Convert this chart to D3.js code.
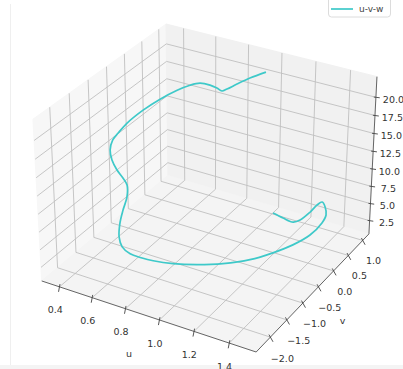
<!DOCTYPE html>
<html>
<head>
<meta charset="utf-8">
<script src="https://cdn.jsdelivr.net/npm/d3@7"></script>
<style>
  body { margin: 0; background: #fff; }
  svg { display: block; }
  text { font-family: "DejaVu Sans", sans-serif; }
</style>
</head>
<body>
<svg id="chart" width="403" height="369"></svg>
<script>
// trajectory (u, v, w)
const uVals = [1.036, 1.127, 1.212, 1.247, 1.268, 1.276, 1.295, 1.354, 1.423, 1.465,
  1.487, 1.468, 1.423, 1.355, 1.254, 1.142, 1.028, 0.922, 0.852, 0.785,
  0.723, 0.674, 0.632, 0.608, 0.587, 0.546, 0.505, 0.450, 0.387, 0.342,
  0.337, 0.347, 0.367, 0.419, 0.483, 0.555, 0.614, 0.669, 0.742, 0.802,
  0.849, 0.869, 0.898, 0.939, 0.994];
const vVals = [0.838, 0.675, 0.539, 0.573, 0.790, 0.976, 1.040, 0.799, 0.429, 0.047,
  -0.470, -0.907, -1.275, -1.600, -1.867, -2.041, -2.157, -2.200, -2.200, -2.191,
  -2.122, -1.980, -1.761, -1.563, -1.354, -1.161, -1.086, -0.999, -0.852, -0.697,
  -0.595, -0.484, -0.317, -0.092, 0.106, 0.267, 0.364, 0.394, 0.331, 0.237,
  0.149, 0.201, 0.354, 0.539, 0.747];
const wVals = [1.6, 2.2, 2.8, 3.2, 3.6, 3.9, 4.2, 4.9, 5.8, 6.6,
  7.3, 7.7, 7.9, 7.9, 7.8, 7.6, 7.4, 7.2, 7.1, 7.1,
  7.3, 7.7, 8.4, 9.2, 10.0, 10.6, 11.0, 11.4, 11.8, 12.3,
  13.3, 13.9, 14.8, 16.1, 17.3, 18.4, 19.1, 19.6, 20.0, 20.3,
  20.5, 20.7, 21.0, 21.4, 21.8];

const uTicks = [0.4, 0.6, 0.8, 1.0, 1.2, 1.4];
const vTicks = [-2.0, -1.5, -1.0, -0.5, 0.0, 0.5, 1.0];
const wTicks = [2.5, 5.0, 7.5, 10.0, 12.5, 15.0, 17.5, 20.0];
const uLim = [0.29, 1.55];
const vLim = [-2.42, 1.22];
const wLim = [0.54, 22.8];
const seriesName = 'u-v-w';

const svg = d3.select('#chart');

// view like matplotlib's default 3d axes
const azim = -60 * Math.PI / 180;
const elev = 30 * Math.PI / 180;
const dist = 15;

const xs = d3.scaleLinear().domain(uLim).range([-1, 1]);
const ys = d3.scaleLinear().domain(vLim).range([-1, 1]);
const zs = d3.scaleLinear().domain(wLim).range([-0.75, 0.75]);
const sx = d3.scaleLinear().domain([-1, 1]).range([86.0, 331.4]);
const sy = d3.scaleLinear().domain([-1, 1]).range([301.9, 56.5]);

function proj(p) {
  const [x, y, z] = p;
  const X = -Math.sin(azim) * x + Math.cos(azim) * y;
  const Y = -Math.sin(elev) * Math.cos(azim) * x - Math.sin(elev) * Math.sin(azim) * y + Math.cos(elev) * z;
  const d = Math.cos(elev) * Math.cos(azim) * x + Math.cos(elev) * Math.sin(azim) * y + Math.sin(elev) * z;
  const f = dist / (dist - d);
  return [sx(X * f), sy(Y * f)];
}
const add = (a, b, k = 1) => [a[0] + b[0] * k, a[1] + b[1] * k, a[2] + b[2] * k];

const Z0 = -0.75, Z1 = 0.75;
const fmt = d3.format('.1f');

// frame of the screenshot
svg.append('rect').attr('x', 0).attr('y', 365).attr('width', 403).attr('height', 4).attr('fill', '#f4f4f4');
svg.append('line').attr('x1', 10.5).attr('x2', 10.5).attr('y1', 4).attr('y2', 365)
  .attr('stroke', '#efefef').attr('stroke-width', 1);

// panes
const panes = [
  { fill: '#f7f7f7', pts: [[-1, -1, Z0], [-1, 1, Z0], [-1, 1, Z1], [-1, -1, Z1]] },
  { fill: '#f1f1f1', pts: [[-1, 1, Z0], [1, 1, Z0], [1, 1, Z1], [-1, 1, Z1]] },
  { fill: '#f4f4f4', pts: [[-1, -1, Z0], [1, -1, Z0], [1, 1, Z0], [-1, 1, Z0]] }
];
svg.append('g').selectAll('polygon')
  .data(panes)
  .enter()
  .append('polygon')
  .attr('points', d => d.pts.map(p => proj(p).join(',')).join(' '))
  .attr('fill', d => d.fill)
  .attr('stroke', d => d.fill)
  .attr('stroke-width', 1);

// grid lines
const grid = [];
uTicks.forEach(t => {
  const x = xs(t);
  grid.push([[x, 1, Z0], [x, 1, Z1]], [[x, -1, Z0], [x, 1, Z0]]);
});
vTicks.forEach(t => {
  const y = ys(t);
  grid.push([[-1, y, Z0], [-1, y, Z1]], [[-1, y, Z0], [1, y, Z0]]);
});
wTicks.forEach(t => {
  const z = zs(t);
  grid.push([[-1, -1, z], [-1, 1, z]], [[-1, 1, z], [1, 1, z]]);
});
svg.append('g').selectAll('line')
  .data(grid)
  .enter()
  .append('line')
  .attr('x1', d => proj(d[0])[0]).attr('y1', d => proj(d[0])[1])
  .attr('x2', d => proj(d[1])[0]).attr('y2', d => proj(d[1])[1])
  .attr('stroke', '#c0c0c0')
  .attr('stroke-width', 0.9);

// axis lines
const axisLines = [
  [[-1, -1, Z0], [1, -1, Z0]],
  [[1, -1, Z0], [1, 1, Z0]],
  [[1, 1, Z0], [1, 1, Z1]]
];
svg.append('g').selectAll('line')
  .data(axisLines)
  .enter()
  .append('line')
  .attr('x1', d => proj(d[0])[0]).attr('y1', d => proj(d[0])[1])
  .attr('x2', d => proj(d[1])[0]).attr('y2', d => proj(d[1])[1])
  .attr('stroke', '#555')
  .attr('stroke-width', 0.9);

// ticks and tick labels
const axes = [
  { ticks: uTicks, at: t => [xs(t), -1, Z0], off: [0, -0.074, -0.179] },
  { ticks: vTicks, at: t => [1, ys(t), Z0], off: [0.11, 0, -0.164] },
  { ticks: wTicks, at: t => [1, 1, zs(t)], off: [0.141, 0.035, 0] }
];
axes.forEach(ax => {
  const g = svg.append('g');
  g.selectAll('line')
    .data(ax.ticks)
    .enter()
    .append('line')
    .attr('x1', t => proj(add(ax.at(t), ax.off, -0.12))[0])
    .attr('y1', t => proj(add(ax.at(t), ax.off, -0.12))[1])
    .attr('x2', t => proj(add(ax.at(t), ax.off, 0.22))[0])
    .attr('y2', t => proj(add(ax.at(t), ax.off, 0.22))[1])
    .attr('stroke', '#444')
    .attr('stroke-width', 0.9);
  g.selectAll('text')
    .data(ax.ticks)
    .enter()
    .append('text')
    .attr('x', t => proj(add(ax.at(t), ax.off))[0])
    .attr('y', t => proj(add(ax.at(t), ax.off))[1])
    .attr('dy', '0.35em')
    .attr('text-anchor', 'middle')
    .attr('font-size', 9.5)
    .attr('fill', '#333')
    .text(t => fmt(t));
});

// axis titles (the w title falls outside the picture in the reference)
const titles = [
  { text: 'u', p: add([0, -1, Z0], [0, -0.26, -0.21]) },
  { text: 'v', p: add([1, 0, Z0], [0.254, 0, -0.212]) }
];
svg.append('g').selectAll('text')
  .data(titles)
  .enter()
  .append('text')
  .attr('x', d => proj(d.p)[0])
  .attr('y', d => proj(d.p)[1])
  .attr('dy', '0.35em')
  .attr('text-anchor', 'middle')
  .attr('font-size', 9.5)
  .attr('fill', '#333')
  .text(d => d.text);

// the curve
const pts = uVals.map((u, i) => proj([xs(u), ys(vVals[i]), zs(wVals[i])]));
const line = d3.line().curve(d3.curveCatmullRom.alpha(0.5));
svg.append('path')
  .attr('d', line(pts))
  .attr('fill', 'none')
  .attr('stroke', '#3ec9c9')
  .attr('stroke-width', 1.7)
  .attr('stroke-linejoin', 'round');

// legend
const legend = svg.append('g');
legend.append('rect')
  .attr('x', 328.5).attr('y', -6).attr('width', 62).attr('height', 23).attr('rx', 3)
  .attr('fill', '#fff').attr('stroke', '#dcdcdc').attr('stroke-width', 1);
legend.append('line')
  .attr('x1', 331).attr('x2', 353).attr('y1', 9).attr('y2', 9)
  .attr('stroke', '#3ec9c9').attr('stroke-width', 1.7);
legend.append('text')
  .attr('x', 359).attr('y', 9).attr('dy', '0.35em')
  .attr('font-size', 9).attr('fill', '#444')
  .text(seriesName);
</script>
</body>
</html>
